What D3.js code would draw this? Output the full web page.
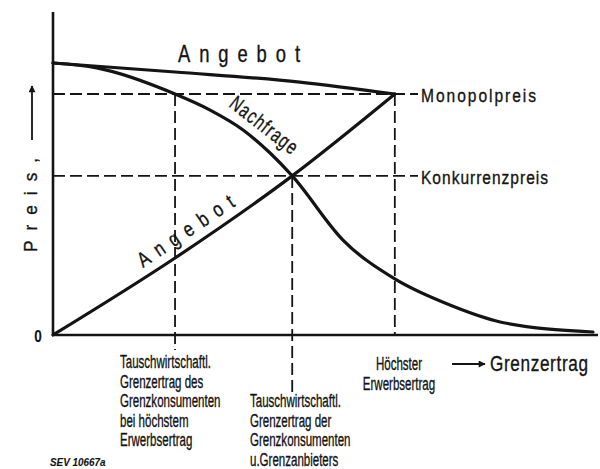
<!DOCTYPE html>
<html>
<head>
<meta charset="utf-8">
<script src="https://cdn.jsdelivr.net/npm/d3@7"></script>
<style>
  body { margin: 0; background: #fff; }
  svg { display: block; font-family: 'Liberation Sans', Arial, sans-serif; }
</style>
</head>
<body>
<svg width="600" height="469"></svg>
<script>
// Grenzertrag (x) und Preis (y), beide 0..100
var angebotOben = [[0, 100], [22.6, 96.7], [45.7, 93.0], [63.3, 88.6]];
var nachfrage = [[0, 100], [8.1, 98.2], [22.6, 88.6], [29.1, 82.7], [35.2, 75.4], [40.2, 66.9],
  [44.3, 58.5], [53.7, 34.9], [63.3, 20.6], [73.5, 11.0], [82.8, 4.8], [100, 1.1]];
var angebotUnten = [[0, 0], [22.6, 28.3], [44.3, 58.5], [63.3, 88.6]];

var preise = [
  { name: 'Monopolpreis', value: 88.6 },
  { name: 'Konkurrenzpreis', value: 58.5 }
];
var ertraege = [
  { value: 22.6, preis: 88.6, lines: ['Tauschwirtschaftl.', 'Grenzertrag des', 'Grenzkonsumenten', 'bei höchstem', 'Erwerbsertrag'] },
  { value: 44.3, preis: 58.5, lines: ['Tauschwirtschaftl.', 'Grenzertrag der', 'Grenzkonsumenten', 'u.Grenzanbieters'] },
  { value: 63.3, preis: 88.6, lines: ['Höchster', 'Erwerbsertrag'] }
];

var svg = d3.select('svg');
var x = d3.scaleLinear().domain([0, 100]).range([53, 593]);
var y = d3.scaleLinear().domain([0, 100]).range([335, 63]);
var ink = '#141414';

svg.append('defs').append('marker')
  .attr('id', 'head').attr('viewBox', '0 0 10 10')
  .attr('refX', 9).attr('refY', 5)
  .attr('markerWidth', 9).attr('markerHeight', 7)
  .attr('markerUnits', 'userSpaceOnUse').attr('orient', 'auto')
  .append('path').attr('d', 'M0,0L10,5L0,10z').attr('fill', ink);

function label(sel, text, px, py, o) {
  o = o || {};
  var sx = o.sx || 0.8;
  var t = sel.append('text')
    .attr('transform', 'translate(' + px + ',' + py + ') rotate(' + (o.rotate || 0) + ') scale(' + sx + ',1)')
    .attr('font-size', o.size || 16)
    .attr('font-weight', o.weight || 'normal')
    .attr('font-style', o.style || 'normal')
    .attr('text-anchor', o.anchor || 'start')
    .attr('fill', ink).attr('stroke', ink).attr('stroke-width', o.bold || 0.35)
    .text(text);
  if (o.width) t.attr('textLength', o.width / sx).attr('lengthAdjust', 'spacing');
  return t;
}

// gestrichelte Hilfslinien
var dash = '12,5';
var guides = svg.append('g').attr('stroke', ink).attr('stroke-width', 1.8).attr('stroke-dasharray', dash).attr('fill', 'none');
preise.forEach(function(p) {
  guides.append('line').attr('x1', x(0)).attr('x2', 418).attr('y1', y(p.value)).attr('y2', y(p.value));
  label(svg, p.name, 421, y(p.value) + 8, { size: 19, width: p.name == 'Monopolpreis' ? 115 : 127, sx: 0.82 });
});
var bottoms = [350, 392, 335];
ertraege.forEach(function(e, i) {
  guides.append('line').attr('x1', x(e.value)).attr('x2', x(e.value)).attr('y1', y(e.preis)).attr('y2', bottoms[i]);
});

// Achsen
svg.append('line').attr('x1', x(0)).attr('x2', x(0)).attr('y1', 12).attr('y2', y(0))
  .attr('stroke', ink).attr('stroke-width', 2.6);
svg.append('line').attr('x1', x(0) - 1).attr('x2', 598).attr('y1', y(0)).attr('y2', y(0))
  .attr('stroke', ink).attr('stroke-width', 2.6);

// Kurven
var line = d3.line().x(function(d) { return x(d[0]); }).y(function(d) { return y(d[1]); }).curve(d3.curveMonotoneX);
[angebotOben, nachfrage, angebotUnten].forEach(function(s) {
  svg.append('path').attr('d', line(s)).attr('fill', 'none').attr('stroke', ink)
    .attr('stroke-width', 3.2).attr('stroke-linecap', 'round');
});

// Beschriftungen der Kurven
label(svg, 'Angebot', 178, 62, { size: 23, width: 122, sx: 0.8 });
label(svg, 'Nachfrage', 228, 106, { size: 21, width: 80, rotate: 38, sx: 0.72 });
label(svg, 'Angebot', 143, 268, { size: 21, width: 112, rotate: -33.8, sx: 0.8 });

// Achsenbeschriftungen
label(svg, 'Preis,', 37, 252, { size: 19, width: 94, rotate: -90, sx: 0.9 });
svg.append('line').attr('x1', 32).attr('x2', 32).attr('y1', 140).attr('y2', 86)
  .attr('stroke', ink).attr('stroke-width', 1.8).attr('marker-end', 'url(#head)');
label(svg, '0', 38, 342, { size: 17, anchor: 'middle', weight: 'bold', sx: 0.8, bold: 0.1 });

svg.append('line').attr('x1', 452).attr('x2', 485).attr('y1', 364).attr('y2', 364)
  .attr('stroke', ink).attr('stroke-width', 1.8).attr('marker-end', 'url(#head)');
label(svg, 'Grenzertrag', 490, 371, { size: 22, width: 98, sx: 0.78 });

// Erklaerungen unter der Abszisse
var pos = [{ px: 120, py: 368, anchor: 'start' }, { px: 250, py: 407, anchor: 'start' }, { px: 399, py: 370, anchor: 'middle' }];
ertraege.forEach(function(e, i) {
  e.lines.forEach(function(t, j) {
    label(svg, t, pos[i].px, pos[i].py + j * 19.5, { size: 18, anchor: pos[i].anchor, sx: 0.64 });
  });
});

label(svg, 'SEV 10667a', 50, 466, { size: 11, weight: 'bold', style: 'italic', sx: 0.9, bold: 0.1 });
</script>
</body>
</html>
